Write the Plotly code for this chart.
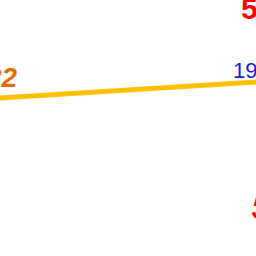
import plotly.graph_objects as go

# Slope segment (two end points) and its labels
x_pos = [0, 1]
values = [22, 19]
left_label = "22"
right_label = "19"
other_labels = ["5", "5"]
other_values = [8.1, 38.1]

X_RANGE = [0.0949, 0.9051]
Y_RANGE = [45.65, 6.86]


def to_paper_x(x):
    return (x - X_RANGE[0]) / (X_RANGE[1] - X_RANGE[0])


def to_paper_y(y):
    return (y - Y_RANGE[0]) / (Y_RANGE[1] - Y_RANGE[0])


fig = go.Figure()
fig.add_trace(go.Scatter(
    x=x_pos, y=values, mode="lines",
    line=dict(color="#FFC000", width=5),
    hoverinfo="skip", showlegend=False,
))

FONT = "Liberation Sans, Arial"
fig.add_annotation(xref="paper", yref="paper",
                   x=to_paper_x(x_pos[0]), y=to_paper_y(values[0]),
                   text="<b><i>" + left_label + "</i></b>",
                   showarrow=False, xanchor="right", yanchor="middle",
                   xshift=50, yshift=22,
                   font=dict(family=FONT, size=28, color="#E36C09"))
fig.add_annotation(xref="paper", yref="paper",
                   x=to_paper_x(x_pos[1]), y=to_paper_y(values[1]),
                   text=right_label,
                   showarrow=False, xanchor="left", yanchor="middle",
                   xshift=-55, yshift=10,
                   font=dict(family=FONT, size=22, color="#1A1AE6"))
fig.add_annotation(xref="paper", yref="paper",
                   x=to_paper_x(x_pos[1]), y=to_paper_y(other_values[0]),
                   text="<b>" + other_labels[0] + "</b>",
                   showarrow=False, xanchor="left", yanchor="middle",
                   xshift=-47,
                   font=dict(family=FONT, size=30, color="#FF0000"))
fig.add_annotation(xref="paper", yref="paper",
                   x=to_paper_x(x_pos[1]), y=to_paper_y(other_values[1]),
                   text="<i>" + other_labels[1] + "</i>",
                   showarrow=False, xanchor="left", yanchor="middle",
                   xshift=-37,
                   font=dict(family=FONT, size=38, color="#FF0000"))

fig.update_layout(
    width=256, height=256,
    margin=dict(l=0, r=0, t=0, b=0),
    paper_bgcolor="white", plot_bgcolor="white",
    xaxis=dict(range=X_RANGE, visible=False, fixedrange=True),
    yaxis=dict(range=Y_RANGE, visible=False, fixedrange=True),
)
fig.write_html("out.html")
